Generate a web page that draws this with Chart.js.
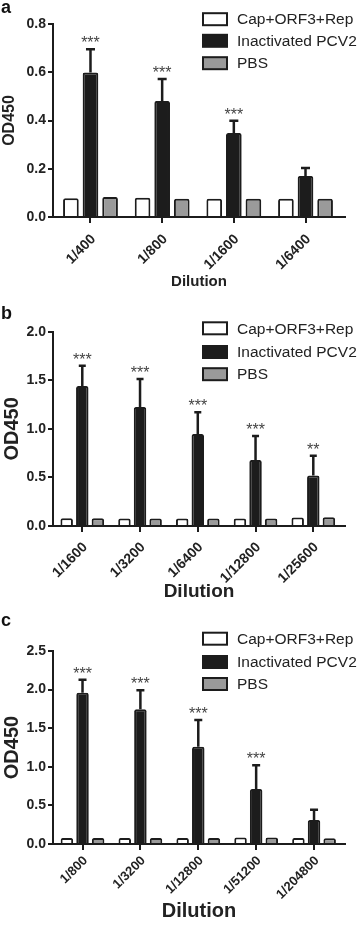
<!DOCTYPE html>
<html lang="en">
<head>
<meta charset="UTF-8">
<title>OD450 by dilution</title>
<script src="https://cdn.jsdelivr.net/npm/chart.js"></script>
<style>
    body { margin: 0; background: #fff; font-family: "Liberation Sans", Arial, sans-serif; }
    .wrap { position: relative; width: 358px; height: 925px; overflow: hidden; }
    .panel { position: absolute; left: 0; width: 358px; }
    .tag { position: absolute; left: 1px; font-weight: bold; font-size: 18px; line-height: 18px; color: #111; }
</style>
</head>
<body>
<div class="wrap">
    <div class="panel" style="top:0;height:300px"><canvas id="chartA"></canvas></div>
    <div class="panel" style="top:300px;height:310px"><canvas id="chartB"></canvas></div>
    <div class="panel" style="top:610px;height:315px"><canvas id="chartC"></canvas></div>
    <div class="tag" style="top:-2px">a</div>
    <div class="tag" style="top:304px">b</div>
    <div class="tag" style="top:611px">c</div>
</div>

<script>
// series names
const groups = ['Cap+ORF3+Rep', 'Inactivated PCV2', 'PBS'];

// panel a
const aLabels = ['1/400', '1/800', '1/1600', '1/6400'];
const aCap = [0.078, 0.080, 0.076, 0.076];
const aPcv = [0.599, 0.481, 0.348, 0.170];
const aPcvSd = [0.096, 0.091, 0.051, 0.033];
const aPbs = [0.083, 0.076, 0.076, 0.076];
const aStars = ['***', '***', '***', ''];
const aTicks = [0, 0.2, 0.4, 0.6, 0.8];

// panel b
const bLabels = ['1/1600', '1/3200', '1/6400', '1/12800', '1/25600'];
const bCap = [0.079, 0.077, 0.077, 0.077, 0.087];
const bPcv = [1.441, 1.225, 0.947, 0.679, 0.521];
const bPcvSd = [0.209, 0.288, 0.223, 0.247, 0.203];
const bPbs = [0.080, 0.077, 0.077, 0.077, 0.090];
const bStars = ['***', '***', '***', '***', '**'];
const bTicks = [0, 0.5, 1.0, 1.5, 2.0];

// panel c
const cLabels = ['1/800', '1/3200', '1/12800', '1/51200', '1/204800'];
const cCap = [0.078, 0.078, 0.078, 0.085, 0.078];
const cPcv = [1.960, 1.744, 1.261, 0.712, 0.311];
const cPcvSd = [0.169, 0.246, 0.345, 0.307, 0.134];
const cPbs = [0.078, 0.078, 0.078, 0.085, 0.075];
const cStars = ['***', '***', '***', '***', ''];
const cTicks = [0, 0.5, 1.0, 1.5, 2.0, 2.5];

const FONT = '"Liberation Sans", Arial, sans-serif';
const INK = '#1c1c1c';
const fills = ['#ffffff', '#1c1c1c', '#9a9a9a'];

// error bars (mean + SD, upward only) and significance stars
const errorBars = {
    id: 'errorBars',
    afterDatasetsDraw(chart, args, opts) {
        const ctx = chart.ctx;
        const y = chart.scales.y;
        chart.data.datasets.forEach((ds, di) => {
            if (!ds.sd) return;
            chart.getDatasetMeta(di).data.forEach((bar, i) => {
                const top = y.getPixelForValue(ds.data[i].y + ds.sd[i]);
                ctx.save();
                ctx.strokeStyle = INK;
                ctx.lineWidth = 2.5;
                ctx.beginPath();
                ctx.moveTo(bar.x, bar.y);
                ctx.lineTo(bar.x, top);
                ctx.moveTo(bar.x - opts.cap / 2, top);
                ctx.lineTo(bar.x + opts.cap / 2, top);
                ctx.stroke();
                if (ds.stars && ds.stars[i]) {
                    ctx.fillStyle = '#444';
                    ctx.font = '16px ' + FONT;
                    ctx.textAlign = 'center';
                    ctx.textBaseline = 'alphabetic';
                    ctx.fillText(ds.stars[i], bar.x, top - 1);
                }
                ctx.restore();
            });
        });
    }
};

// legend in the upper right corner
const boxLegend = {
    id: 'boxLegend',
    afterDraw(chart, args, opts) {
        const ctx = chart.ctx;
        chart.data.datasets.forEach((ds, i) => {
            const cy = opts.rows[i];
            ctx.save();
            ctx.fillStyle = ds.backgroundColor;
            ctx.strokeStyle = INK;
            ctx.lineWidth = 2;
            ctx.fillRect(203, cy - 6, 24, 12);
            ctx.strokeRect(203, cy - 6, 24, 12);
            ctx.fillStyle = '#222';
            ctx.font = opts.size + 'px ' + FONT;
            ctx.textBaseline = 'middle';
            ctx.fillText(ds.label, 237, cy + 1);
            ctx.restore();
        });
    }
};

function makePanel(id, p) {
    const series = [p.cap, p.pcv, p.pbs];
    const datasets = series.map((vals, k) => ({
        label: groups[k],
        data: vals.map((v, i) => ({ x: i, y: v })),
        backgroundColor: fills[k],
        borderColor: INK,
        borderWidth: 2,
        borderRadius: 2,
        categoryPercentage: p.catPct,
        barPercentage: 0.8
    }));
    datasets[1].sd = p.sd;
    datasets[1].stars = p.stars;

    return new Chart(document.getElementById(id), {
        type: 'bar',
        data: { datasets: datasets },
        options: {
            responsive: true,
            maintainAspectRatio: false,
            animation: false,
            layout: { padding: { top: p.padTop, bottom: p.padBottom, left: 0, right: 13 } },
            plugins: {
                legend: { display: false },
                tooltip: { enabled: false },
                errorBars: { cap: p.capW },
                boxLegend: { rows: p.rows, size: p.legendSize }
            },
            scales: {
                x: {
                    type: 'linear',
                    offset: false,
                    bounds: 'data',
                    min: p.xMin,
                    max: p.xMax,
                    afterBuildTicks: s => { s.ticks = p.labels.map((_, i) => ({ value: i })); },
                    afterFit: s => { s.height = p.xHeight; },
                    ticks: {
                        autoSkip: false,
                        minRotation: 45,
                        maxRotation: 45,
                        padding: p.labelPad,
                        labelOffset: 3,
                        color: '#222',
                        font: { family: FONT, size: p.labelSize, weight: 'bold' },
                        callback: (v) => p.labels[v]
                    },
                    grid: { offset: false, drawOnChartArea: false, drawTicks: true, tickLength: 6, color: INK, lineWidth: 2 },
                    border: { display: true, color: INK, width: 2 },
                    title: {
                        display: true,
                        text: 'Dilution',
                        color: '#222',
                        padding: { top: 2, bottom: 0 },
                        font: { family: FONT, size: p.xTitleSize, weight: 'bold' }
                    }
                },
                y: {
                    min: 0,
                    max: p.yTicks[p.yTicks.length - 1],
                    afterBuildTicks: s => { s.ticks = p.yTicks.map(v => ({ value: v })); },
                    afterFit: s => { s.width = 53; },
                    ticks: {
                        padding: 2,
                        color: '#222',
                        font: { family: FONT, size: 14, weight: 'bold' },
                        callback: v => v.toFixed(1)
                    },
                    grid: { drawOnChartArea: false, drawTicks: true, tickLength: 5, color: INK, lineWidth: 2 },
                    border: { display: true, color: INK, width: 2 },
                    title: {
                        display: true,
                        text: 'OD450',
                        color: '#222',
                        padding: { top: 0, bottom: 0 },
                        font: { family: FONT, size: p.yTitleSize, weight: 'bold' }
                    }
                }
            }
        },
        plugins: [errorBars, boxLegend]
    });
}

makePanel('chartA', {
    labels: aLabels, cap: aCap, pcv: aPcv, sd: aPcvSd, pbs: aPbs, stars: aStars, yTicks: aTicks,
    xMin: -0.523, xMax: 3.551, catPct: 0.82, capW: 9, labelPad: 8, labelSize: 14,
    padTop: 24, padBottom: 9, xHeight: 74, xTitleSize: 15, yTitleSize: 16,
    rows: [19.2, 40.8, 63.2], legendSize: 15.5
});

makePanel('chartB', {
    labels: bLabels, cap: bCap, pcv: bPcv, sd: bPcvSd, pbs: bPbs, stars: bStars, yTicks: bTicks,
    xMin: -0.507, xMax: 4.549, catPct: 0.81, capW: 7, labelPad: 7, labelSize: 14,
    padTop: 31.7, padBottom: 6.9, xHeight: 77.1, xTitleSize: 19, yTitleSize: 20,
    rows: [28.3, 52, 74.2], legendSize: 15.5
});

makePanel('chartC', {
    labels: cLabels, cap: cCap, pcv: cPcv, sd: cPcvSd, pbs: cPbs, stars: cStars, yTicks: cTicks,
    xMin: -0.51, xMax: 4.535, catPct: 0.81, capW: 8, labelPad: 3, labelSize: 13,
    padTop: 41, padBottom: 1.3, xHeight: 79.7, xTitleSize: 20, yTitleSize: 20,
    rows: [28.7, 52, 74], legendSize: 15.5
});
</script>
</body>
</html>
